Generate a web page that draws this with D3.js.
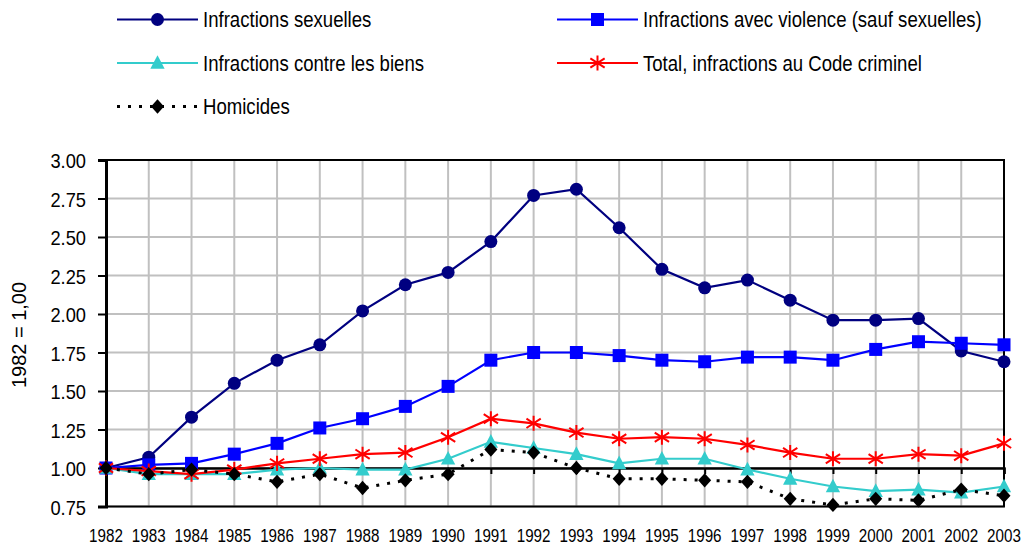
<!DOCTYPE html>
<html>
<head>
<meta charset="utf-8">
<script src="https://cdn.jsdelivr.net/npm/d3@7"></script>
<style>
  html, body { margin: 0; padding: 0; background: #fff; }
  svg text { font-family: "Liberation Sans", Arial, sans-serif; fill: #000; }
</style>
</head>
<body>
<svg id="chart" width="1034" height="545"></svg>
<script>
// Index of police-reported crime, 1982 = 1.00
const years = [1982, 1983, 1984, 1985, 1986, 1987, 1988, 1989, 1990, 1991, 1992,
               1993, 1994, 1995, 1996, 1997, 1998, 1999, 2000, 2001, 2002, 2003];

const sexuelles = [1.00, 1.07, 1.33, 1.55, 1.70, 1.80, 2.02, 2.19, 2.27, 2.47, 2.77,
                   2.81, 2.56, 2.29, 2.17, 2.22, 2.09, 1.96, 1.96, 1.97, 1.76, 1.69];
const violence  = [1.00, 1.02, 1.03, 1.09, 1.16, 1.26, 1.32, 1.40, 1.53, 1.70, 1.75,
                   1.75, 1.73, 1.70, 1.69, 1.72, 1.72, 1.70, 1.77, 1.82, 1.81, 1.80];
const biens     = [1.00, 0.96, 0.96, 0.96, 0.99, 1.00, 0.99, 0.99, 1.06, 1.17, 1.13,
                   1.09, 1.03, 1.06, 1.06, 0.99, 0.93, 0.88, 0.85, 0.86, 0.84, 0.88];
const total     = [1.00, 0.98, 0.96, 0.99, 1.03, 1.06, 1.09, 1.10, 1.20, 1.32, 1.29,
                   1.23, 1.19, 1.20, 1.19, 1.15, 1.10, 1.06, 1.06, 1.09, 1.08, 1.16];
const homicides = [1.00, 0.96, 0.99, 0.96, 0.91, 0.96, 0.87, 0.92, 0.96, 1.12, 1.10,
                   1.00, 0.93, 0.93, 0.92, 0.91, 0.80, 0.76, 0.80, 0.79, 0.86, 0.82];

const yTicks = [0.75, 1.00, 1.25, 1.50, 1.75, 2.00, 2.25, 2.50, 2.75, 3.00];
const yTitle = "1982 = 1,00";

const series = [
  { name: "Infractions sexuelles", values: sexuelles, color: "#000080", marker: "circle", dash: null },
  { name: "Infractions avec violence (sauf sexuelles)", values: violence, color: "#0000FF", marker: "square", dash: null },
  { name: "Infractions contre les biens", values: biens, color: "#33CCCC", marker: "triangle", dash: null },
  { name: "Total, infractions au Code criminel", values: total, color: "#FF0000", marker: "star", dash: null },
  { name: "Homicides", values: homicides, color: "#000000", marker: "diamond", dash: "3,8" }
];

const svg = d3.select("#chart");
const plot = { left: 106, right: 1004, top: 160, bottom: 506.5 };

// Horizontal compression factors for the narrow typeface look
const condLegend = 0.845, condTick = 0.87, condYear = 0.8;

const x = d3.scalePoint().domain(years).range([plot.left, plot.right]).padding(0);
const y = d3.scaleLinear().domain([0.75, 3.0]).range([plot.bottom, plot.top]);

// Gridlines
const grid = svg.append("g").attr("stroke", "#C0C0C0").attr("stroke-width", 2);
grid.selectAll("line.h").data(yTicks).join("line")
  .attr("x1", plot.left).attr("x2", plot.right)
  .attr("y1", d => y(d)).attr("y2", d => y(d));
grid.selectAll("line.v").data(years).join("line")
  .attr("x1", d => x(d)).attr("x2", d => x(d))
  .attr("y1", plot.top).attr("y2", plot.bottom);

// Frame
svg.append("rect")
  .attr("x", plot.left).attr("y", plot.top)
  .attr("width", plot.right - plot.left).attr("height", plot.bottom - plot.top)
  .attr("fill", "none").attr("stroke", "#000").attr("stroke-width", 2);

// Y axis
const yAxis = d3.axisLeft(y).tickValues(yTicks).tickFormat(d3.format(".2f")).tickSize(8).tickPadding(12);
const gy = svg.append("g").attr("transform", `translate(${plot.left},0)`).call(yAxis);
gy.select(".domain").attr("stroke-width", 3);
gy.selectAll(".tick line").attr("stroke-width", 2);
gy.selectAll("text")
  .style("font-size", "21px").attr("dy", "0.36em")
  .attr("x", -20 / condTick)
  .attr("transform", `scale(${condTick},1)`);

// Horizontal axis crossing at 1.00, with tick marks pointing down
const xAxis = d3.axisBottom(x).tickSize(6).tickFormat("");
const gx = svg.append("g").attr("transform", `translate(0,${y(1.0)})`).call(xAxis);
gx.select(".domain").attr("stroke-width", 2.5);
gx.selectAll(".tick line").attr("stroke-width", 2);

// Year labels at the bottom of the plot
svg.append("g").attr("transform", `scale(${condYear},1)`)
  .selectAll("text").data(years).join("text")
  .attr("x", d => x(d) / condYear).attr("y", 542)
  .attr("text-anchor", "middle")
  .style("font-size", "19px")
  .text(d => d);

// Y title
svg.append("text")
  .attr("transform", `translate(26,335) rotate(-90)`)
  .attr("text-anchor", "middle")
  .style("font-size", "20px")
  .text(yTitle);

// Marker drawing
function drawMarker(g, type, color, size) {
  const s = size;
  if (type === "circle") {
    g.append("circle").attr("r", s * 0.5).attr("fill", color);
  } else if (type === "square") {
    g.append("rect").attr("x", -s / 2).attr("y", -s / 2).attr("width", s).attr("height", s).attr("fill", color);
  } else if (type === "triangle") {
    g.append("path").attr("d", `M0,${-s * 0.6}L${s * 0.55},${s * 0.45}L${-s * 0.55},${s * 0.45}Z`).attr("fill", color);
  } else if (type === "diamond") {
    g.append("path").attr("d", `M0,${-s * 0.55}L${s * 0.5},0L0,${s * 0.55}L${-s * 0.5},0Z`).attr("fill", color);
  } else if (type === "star") {
    const r = s * 0.55;
    g.append("path")
      .attr("d", `M0,${-r * 1.05}L0,${r * 1.05}M${-r},${-r * 0.65}L${r},${r * 0.65}M${-r},${r * 0.65}L${r},${-r * 0.65}`)
      .attr("stroke", color).attr("stroke-width", 2).attr("fill", "none");
  }
}

const line = d3.line().x((d, i) => x(years[i])).y(d => y(d));

series.forEach(s => {
  const g = svg.append("g");
  g.append("path")
    .attr("d", line(s.values))
    .attr("fill", "none")
    .attr("stroke", s.color)
    .attr("stroke-width", s.dash ? 3 : 2.2)
    .attr("stroke-dasharray", s.dash);
  s.values.forEach((v, i) => {
    const m = g.append("g").attr("transform", `translate(${x(years[i])},${y(v)})`);
    drawMarker(m, s.marker, s.color, 13);
  });
});

// Legend
const legendPos = [
  { x: 117, y: 19.5 }, { x: 557, y: 19.5 },
  { x: 117, y: 63 }, { x: 557, y: 63 },
  { x: 117, y: 106.5 }
];
series.forEach((s, i) => {
  const p = legendPos[i];
  const g = svg.append("g").attr("transform", `translate(${p.x},${p.y})`);
  g.append("line").attr("x1", 0).attr("x2", 81).attr("y1", 0).attr("y2", 0)
    .attr("stroke", s.color).attr("stroke-width", s.dash ? 3 : 2.2)
    .attr("stroke-dasharray", s.dash);
  const m = g.append("g").attr("transform", "translate(40.5,0)");
  drawMarker(m, s.marker, s.color, 13);
  g.append("text")
    .attr("transform", `scale(${condLegend},1)`)
    .attr("x", 86 / condLegend).attr("y", 0).attr("dy", "0.36em")
    .style("font-size", "22px")
    .text(s.name);
});
</script>
</body>
</html>
